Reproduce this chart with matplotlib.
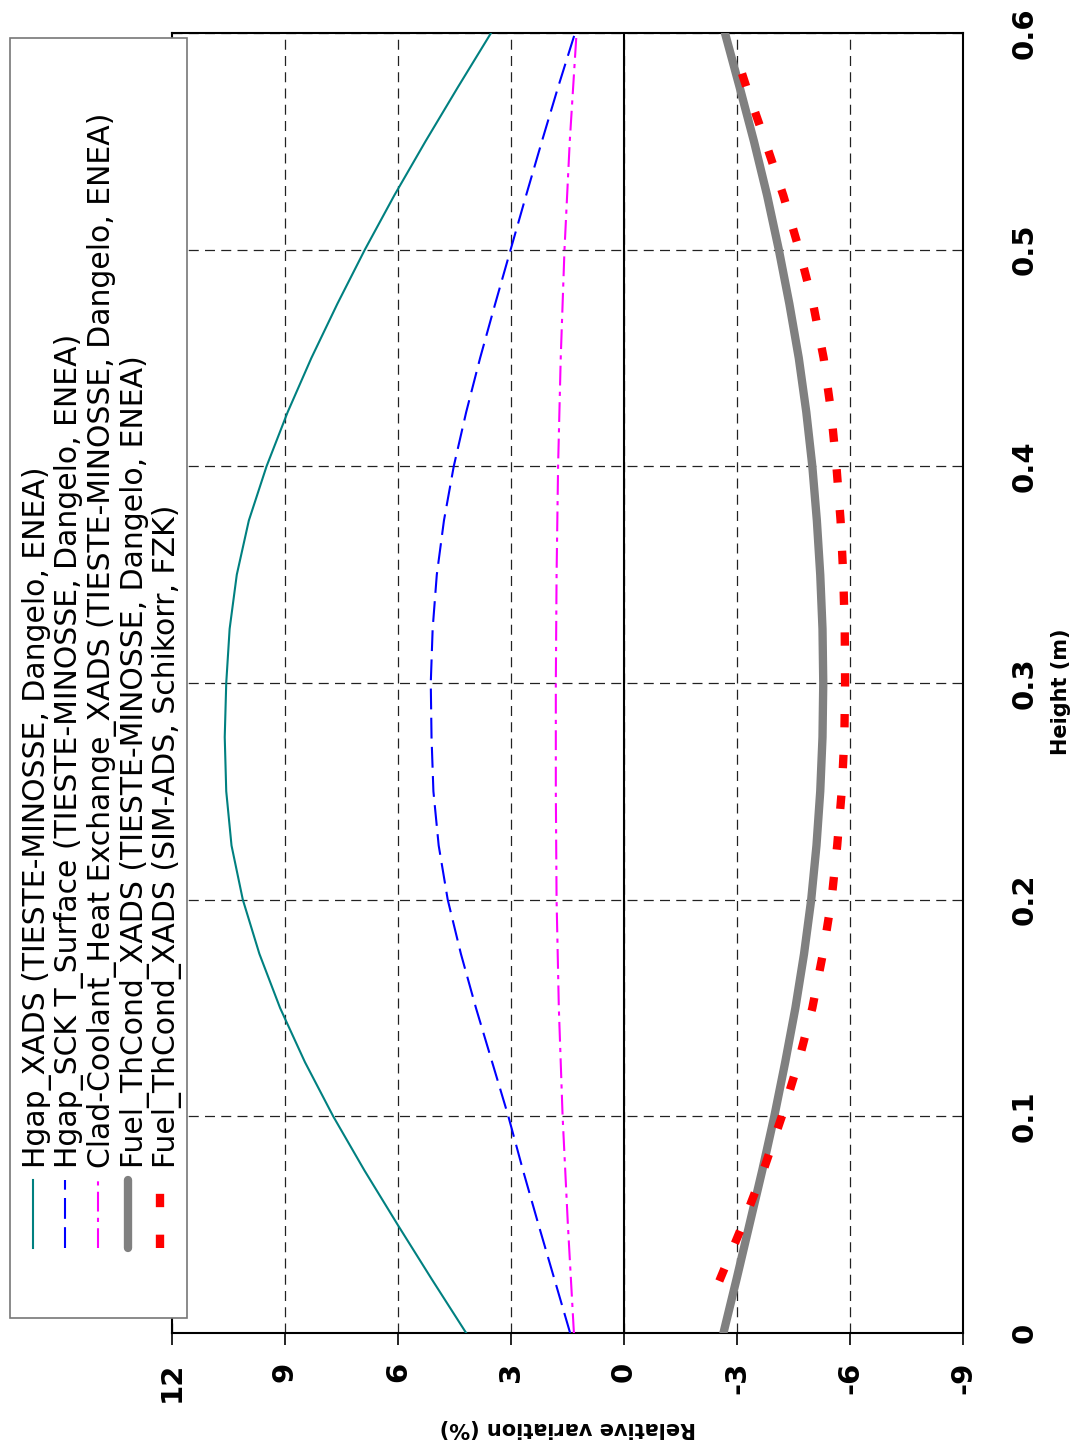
import matplotlib.pyplot as plt
from matplotlib.lines import Line2D
from matplotlib.patches import Rectangle

plt.rcParams['axes.unicode_minus'] = False
plt.rcParams['font.family'] = 'DejaVu Sans'

W, H = 1079, 1447  # output size in pixels

# height along the pin (m)
height = [0.0, 0.025, 0.05, 0.075, 0.1, 0.125, 0.15, 0.175, 0.2, 0.225, 0.25, 0.275, 0.3,
          0.325, 0.35, 0.375, 0.4, 0.425, 0.45, 0.475, 0.5, 0.525, 0.55, 0.575, 0.6]
hgap_xads = [4.19, 5.11, 6.01, 6.89, 7.72, 8.47, 9.13, 9.68, 10.12, 10.42, 10.56, 10.6, 10.56,
             10.47, 10.28, 9.96, 9.49, 8.93, 8.3, 7.61, 6.88, 6.1, 5.27, 4.41, 3.53]
hgap_sck = [1.43, 1.85, 2.27, 2.68, 3.07, 3.5, 3.93, 4.33, 4.68, 4.92, 5.06, 5.11, 5.13,
            5.08, 4.97, 4.78, 4.52, 4.19, 3.82, 3.42, 3.01, 2.6, 2.18, 1.75, 1.30]
fuel_tieste = [-2.64, -2.99, -3.33, -3.67, -3.99, -4.28, -4.55, -4.78, -4.97, -5.11, -5.21, -5.27, -5.29,
               -5.27, -5.21, -5.12, -5.0, -4.84, -4.64, -4.39, -4.11, -3.8, -3.45, -3.07, -2.68]

height_clad = [0.0, 0.05, 0.1, 0.15, 0.2, 0.25, 0.3, 0.35, 0.4, 0.45, 0.5, 0.55, 0.6]
clad_coolant = [1.33, 1.49, 1.63, 1.73, 1.79, 1.81, 1.81, 1.79, 1.75, 1.68, 1.58, 1.44, 1.26]

height_sim = [0.024, 0.05, 0.075, 0.1, 0.125, 0.15, 0.175, 0.2, 0.225, 0.25, 0.275, 0.3,
              0.325, 0.35, 0.375, 0.4, 0.425, 0.45, 0.475, 0.5, 0.525, 0.55, 0.575, 0.582]
fuel_sim = [-2.53, -3.15, -3.7, -4.19, -4.63, -5.0, -5.28, -5.51, -5.66, -5.78, -5.85, -5.87,
            -5.86, -5.82, -5.75, -5.64, -5.5, -5.3, -5.02, -4.65, -4.23, -3.75, -3.25, -3.12]

labels = ["Hgap_XADS (TIESTE-MINOSSE, Dangelo, ENEA)",
          "Hgap_SCK T_Surface (TIESTE-MINOSSE, Dangelo, ENEA)",
          "Clad-Coolant_Heat Exchange_XADS (TIESTE-MINOSSE, Dangelo, ENEA)",
          "Fuel_ThCond_XADS (TIESTE-MINOSSE, Dangelo, ENEA)",
          "Fuel_ThCond_XADS (SIM-ADS, Schikorr, FZK)"]

var_ticks = [12, 9, 6, 3, 0, -3, -6, -9]
height_ticks = [0, 0.1, 0.2, 0.3, 0.4, 0.5, 0.6]

styles = [dict(color='#008080', lw=1.5, ls='-'),
          dict(color='#0000ff', lw=1.5, ls=(0, (10, 4))),
          dict(color='#ff00ff', lw=1.5, ls=(0, (9.5, 3, 2, 3))),
          dict(color='#808080', lw=6, ls='-', solid_capstyle='round'),
          dict(color='#ff0000', lw=6, ls=(0, (1.6, 3.3)), dash_capstyle='butt')]


def fx(x):
    return x / W


def fy(y):
    return 1 - y / H


fig = plt.figure(figsize=(W / 100, H / 100), dpi=100)
# the chart is drawn turned a quarter turn: height runs upwards, variation runs right to left
ax = fig.add_axes([fx(172), fy(1333), (963 - 172) / W, (1333 - 33) / H])

series = [(height, hgap_xads), (height, hgap_sck), (height_clad, clad_coolant),
          (height, fuel_tieste), (height_sim, fuel_sim)]
for (h, v), st in zip(series, styles):
    ax.plot(v, h, **st, zorder=3)

ax.axvline(0, color='black', lw=1.5, zorder=2)

ax.set_xlim(12, -9)
ax.set_ylim(0, 0.6)
ax.set_xticks(var_ticks)
ax.set_xticklabels([str(t) for t in var_ticks], rotation=90, fontsize=21, fontweight='bold')
ax.set_yticks(height_ticks)
ax.set_yticklabels([str(t) for t in height_ticks], rotation=90, fontsize=21,
                   fontweight='bold', va='center')
ax.yaxis.tick_right()
ax.tick_params(axis='x', direction='out', length=8.6, width=1.2, pad=12)
ax.tick_params(axis='y', length=0, pad=34)

ax.grid(True, color='#222222', lw=0.9, ls=(0, (8, 5)))
ax.set_axisbelow(True)
for s in ax.spines.values():
    s.set_linewidth(1.5)

ax.set_xlabel("Relative variation (%)", rotation=180, fontsize=15, fontweight='bold', va='center')
ax.xaxis.set_label_coords(0.5, -(1428 - 1333) / 1300)
ax.yaxis.set_label_position('right')
ax.set_ylabel("Height (m)", rotation=90, fontsize=15, fontweight='bold', va='center', ha='center')
ax.yaxis.set_label_coords((1061 - 172) / 791, (1333 - 692) / 1300)

# legend box, drawn by hand so its text can be turned too
fig.add_artist(Rectangle((fx(9.5), fy(1318)), (187 - 9.5) / W, (1318 - 38) / H,
                         transform=fig.transFigure, facecolor='white',
                         edgecolor='#777777', lw=1.2, zorder=5))
line_x = [33, 65, 98, 128, 160]
text_x = [45, 77.5, 110, 142.5, 175]
for lx, tx, lab, st in zip(line_x, text_x, labels, styles):
    fig.add_artist(Line2D([fx(lx), fx(lx)], [fy(1248), fy(1180)], transform=fig.transFigure,
                          zorder=6, **st))
    fig.text(fx(tx), fy(1168), lab, rotation=90, rotation_mode='anchor', ha='left',
             va='baseline', fontsize=21.5, zorder=6)

fig.savefig('out.png', dpi=100)
